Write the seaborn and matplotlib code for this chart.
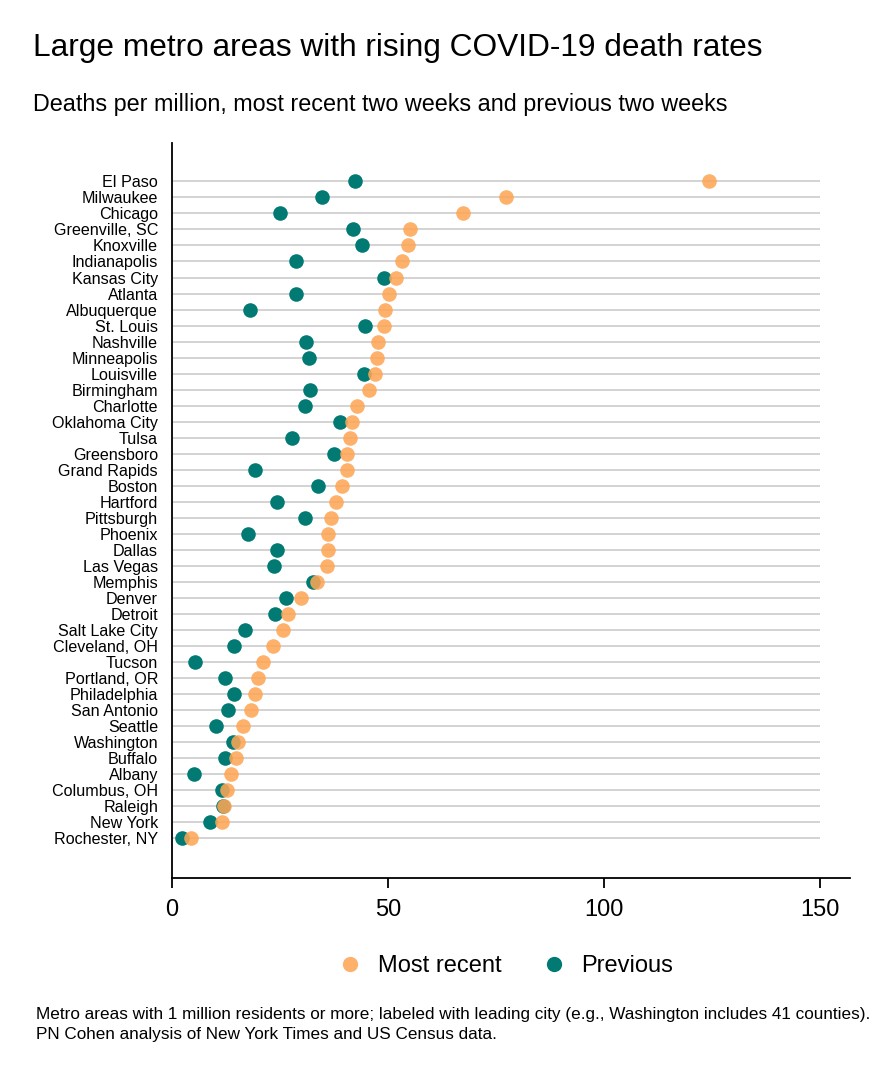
import matplotlib
matplotlib.use("Agg")
import matplotlib.pyplot as plt
from matplotlib.lines import Line2D
import seaborn as sns
import pandas as pd

cities = ["El Paso", "Milwaukee", "Chicago", "Greenville, SC", "Knoxville", "Indianapolis",
          "Kansas City", "Atlanta", "Albuquerque", "St. Louis", "Nashville", "Minneapolis",
          "Louisville", "Birmingham", "Charlotte", "Oklahoma City", "Tulsa", "Greensboro",
          "Grand Rapids", "Boston", "Hartford", "Pittsburgh", "Phoenix", "Dallas", "Las Vegas",
          "Memphis", "Denver", "Detroit", "Salt Lake City", "Cleveland, OH", "Tucson",
          "Portland, OR", "Philadelphia", "San Antonio", "Seattle", "Washington", "Buffalo",
          "Albany", "Columbus, OH", "Raleigh", "New York", "Rochester, NY"]

most_recent = [124.4, 77.3, 67.4, 55.1, 54.6, 53.2, 51.8, 50.2, 49.4, 49.2, 47.8, 47.4,
               47.1, 45.7, 42.9, 41.6, 41.3, 40.6, 40.6, 39.3, 38.0, 36.8, 36.2, 36.1, 36.0,
               33.5, 29.9, 26.9, 25.7, 23.5, 21.1, 20.0, 19.3, 18.4, 16.4, 15.3, 14.9,
               13.6, 12.8, 12.1, 11.6, 4.4]

previous = [42.4, 34.8, 25.0, 41.9, 44.1, 28.8, 49.0, 28.8, 18.1, 44.8, 31.0, 31.8,
            44.4, 32.0, 30.9, 38.8, 27.8, 37.6, 19.2, 33.9, 24.4, 30.7, 17.7, 24.3, 23.7,
            32.6, 26.3, 23.8, 16.8, 14.4, 5.4, 12.3, 14.3, 12.9, 10.2, 14.2, 12.2,
            5.0, 11.5, 11.8, 8.8, 2.4]

x_ticks = [0, 50, 100, 150]
series_labels = ["Most recent", "Previous"]

ORANGE = "#FDA656"
TEAL = "#007A72"
FONT = "Liberation Sans"

df = pd.DataFrame({"city": cities, "Most recent": most_recent, "Previous": previous})
df["pos"] = range(len(cities))

sns.set_theme(style="white")
plt.rcParams["font.family"] = [FONT, "DejaVu Sans"]
plt.rcParams["text.color"] = "black"

fig = plt.figure(figsize=(8.83, 10.8), dpi=100)
ax = fig.add_axes([172 / 883, 1 - 878 / 1080, (850 - 172) / 883, (878 - 143) / 1080])

# horizontal guide lines spanning the tick range
ax.hlines(df["pos"], x_ticks[0], x_ticks[-1], color="#cccccc", linewidth=1.2, zorder=1)

sns.scatterplot(data=df, x="Previous", y="pos", color=TEAL, s=110, linewidth=0,
                alpha=1.0, ax=ax, zorder=3, legend=False)
sns.scatterplot(data=df, x="Most recent", y="pos", color=ORANGE, s=110, linewidth=0,
                alpha=0.88, ax=ax, zorder=4, legend=False)

ax.set_xlim(0, 157)
ax.set_ylim(43.5, -2.4)
ax.set_yticks(df["pos"])
ax.set_yticklabels(cities, fontsize=11.6, color="black")
ax.set_xticks(x_ticks)
ax.set_xticklabels([str(t) for t in x_ticks], fontsize=17, color="black")
ax.set_xlabel("")
ax.set_ylabel("")
ax.tick_params(axis="y", length=0, pad=10)
ax.tick_params(axis="x", length=7, width=1.3, color="black", pad=8, direction="out")
ax.xaxis.set_ticks_position("bottom")
for side in ["top", "right"]:
    ax.spines[side].set_visible(False)
for side in ["left", "bottom"]:
    ax.spines[side].set_color("black")
    ax.spines[side].set_linewidth(1.3)

fig.text(33 / 883, 1 - 48 / 1080, "Large metro areas with rising COVID-19 death rates",
         fontsize=22.8, va="center", ha="left", color="black")
fig.text(33 / 883, 1 - 104 / 1080, "Deaths per million, most recent two weeks and previous two weeks",
         fontsize=16.8, va="center", ha="left", color="black")

handles = [Line2D([0], [0], marker="o", linestyle="", markersize=11, markerfacecolor=ORANGE,
                  markeredgewidth=0, alpha=0.88, label=series_labels[0]),
           Line2D([0], [0], marker="o", linestyle="", markersize=11, markerfacecolor=TEAL,
                  markeredgewidth=0, label=series_labels[1])]
fig.legend(handles=handles, loc="center", bbox_to_anchor=(506 / 883, 1 - 966 / 1080),
           ncol=2, frameon=False, fontsize=17, handlelength=1.0, handletextpad=0.65,
           columnspacing=1.75, labelcolor="black")

fig.text(36 / 883, 1 - 1015 / 1080,
         "Metro areas with 1 million residents or more; labeled with leading city (e.g., Washington includes 41 counties).",
         fontsize=12.3, va="center", ha="left", color="black")
fig.text(36 / 883, 1 - 1034 / 1080,
         "PN Cohen analysis of New York Times and US Census data.",
         fontsize=12.3, va="center", ha="left", color="black")

fig.savefig("out.png", dpi=100, facecolor="white")
